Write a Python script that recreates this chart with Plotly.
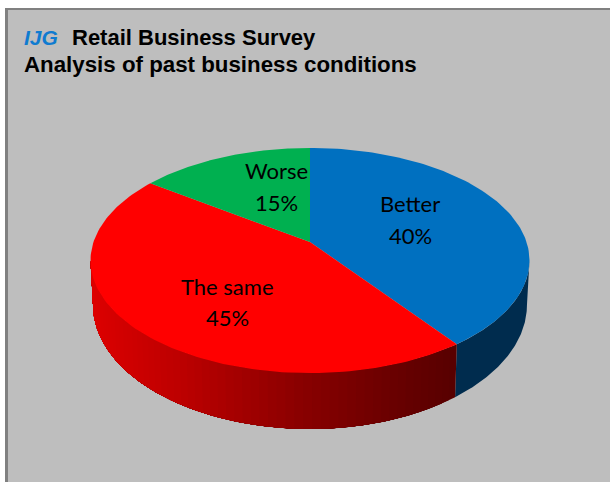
import numpy as np
import plotly.graph_objects as go

# Survey shares, clockwise from twelve o'clock
categories = ["Better", "The same", "Worse"]
shares = [40, 45, 15]
top_colors = ["#0070C0", "#FF0000", "#00B050"]

title_brand = "IJG"
title_line1 = "Retail Business Survey"
title_line2 = "Analysis of past business conditions"

WIDTH, HEIGHT = 610, 482
PANEL = "#BEBEBE"
EDGE = "#808080"

# Perspective model of the disc: screen position of a point on a unit circle
CX = 310.0
PERSP = 0.1645
TOP_FACE = dict(a=216.5, b=109.5, y0=242.0)
BOTTOM_FACE = dict(a=214.0, b=120.6, y0=284.6)


def project(deg, face):
    t = np.radians(deg)
    u, v = np.sin(t), -np.cos(t)
    w = 1 - PERSP * v
    return CX + face["a"] * u / w, face["y0"] + face["b"] * v / w


def polygon(xs, ys, color):
    return go.Scatter(
        x=list(xs), y=list(ys), mode="lines", fill="toself", fillcolor=color,
        line=dict(color=color, width=0), hoverinfo="skip", showlegend=False,
    )


def side_color(x):
    # Wall shading of the red slice runs darker from left to right
    stops_x = [90, 180, 300, 400, 460]
    stops_r = [222, 190, 140, 105, 88]
    return f"rgb({int(np.interp(x, stops_x, stops_r))},0,0)"


def wall(t_from, t_to, color):
    arc = np.linspace(t_from, t_to, max(int(abs(t_to - t_from)) * 2, 2))
    x0, y0 = project(arc, TOP_FACE)
    x1, y1 = project(arc, BOTTOM_FACE)
    return polygon(np.r_[x0, x1[::-1]], np.r_[y0, y1[::-1]], color)


edges = np.cumsum([0] + shares) * 3.6
silhouette = np.degrees(np.arccos(-PERSP))  # where the rim turns away from view

# Outer wall: blue part, then red bands painted over one another towards the left
traces = [wall(silhouette, edges[1], "#002C4E")]
wall_end = 360 - silhouette
for t in np.linspace(edges[1], wall_end, 60)[:-1]:
    traces.append(wall(t, wall_end, side_color(project(t, TOP_FACE)[0])))

# Top face slices
for start, stop, color in zip(edges[:-1], edges[1:], top_colors):
    arc = np.linspace(start, stop, 120)
    ax, ay = project(arc, TOP_FACE)
    traces.append(polygon(np.r_[CX, ax, CX], np.r_[TOP_FACE["y0"], ay, TOP_FACE["y0"]], color))

fig = go.Figure(traces)

# Name and share sit on separate rows inside each slice
label_pos = {"Better": (410, 203, 235), "The same": (227, 286, 317), "Worse": (276, 170, 202)}
label_font = dict(family="Lato", size=22, color="#000000")
annotations = []
for name, share in zip(categories, shares):
    lx, name_y, share_y = label_pos[name]
    annotations.append(dict(x=lx, y=name_y, xref="x", yref="y", showarrow=False,
                            text=name, font=label_font))
    annotations.append(dict(x=lx, y=share_y, xref="x", yref="y", showarrow=False,
                            text=f"{share}%", font=label_font))

annotations += [
    dict(x=22, y=37, xref="x", yref="y", xanchor="left", showarrow=False,
         text=f"<b><i>{title_brand}</i></b>",
         font=dict(family="Liberation Sans", size=21, color="#0F7BD0")),
    dict(x=70, y=37, xref="x", yref="y", xanchor="left", showarrow=False,
         text=f"<b>{title_line1}</b>",
         font=dict(family="Liberation Sans", size=22, color="#000000")),
    dict(x=22, y=64, xref="x", yref="y", xanchor="left", showarrow=False,
         text=f"<b>{title_line2}</b>",
         font=dict(family="Liberation Sans", size=22.3, color="#000000")),
]

fig.update_layout(
    width=WIDTH, height=HEIGHT, autosize=False,
    margin=dict(l=0, r=0, t=0, b=0),
    paper_bgcolor="#FFFFFF", plot_bgcolor="#FFFFFF",
    xaxis=dict(visible=False, range=[0, WIDTH], fixedrange=True),
    yaxis=dict(visible=False, range=[HEIGHT, 0], fixedrange=True),
    annotations=annotations,
    shapes=[
        dict(type="rect", layer="below", x0=5, y0=8, x1=WIDTH, y1=HEIGHT,
             fillcolor=EDGE, line_width=0),
        dict(type="rect", layer="below", x0=8, y0=10, x1=WIDTH, y1=HEIGHT,
             fillcolor=PANEL, line_width=0),
    ],
)

fig.write_html("out.html", config={"displayModeBar": False})
